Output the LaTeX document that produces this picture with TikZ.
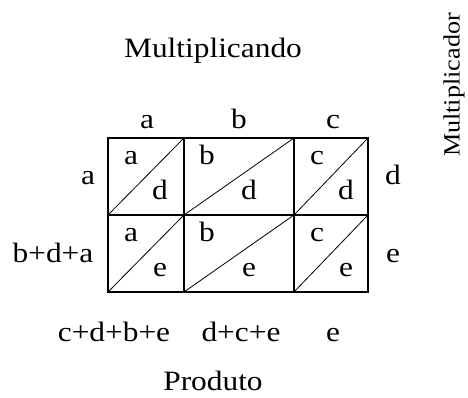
\documentclass[tikz,border=0pt]{standalone}
\usepackage{fontspec}
\setmainfont[FakeStretch=1.12]{Liberation Serif}

\begin{document}
\begin{tikzpicture}[x=0.75pt,y=-0.75pt,
    every node/.style={font=\fontsize{21}{25}\selectfont},
    lbl/.style={anchor=base}]
    \useasboundingbox (0,0) rectangle (468,398);
    \pgfmathsetmacro{\ya}{138}
    \pgfmathsetmacro{\yb}{215}
    \pgfmathsetmacro{\yc}{292}
    % titles
    \node[lbl] (mcando) at (213,58) {Multiplicando};
    \node[rotate=90,font=\fontsize{17.5}{20}\selectfont] (mcador) at (454,85) {Multiplicador};
    \node[lbl] (prod) at (213,391) {Produto};
    % cells, one column at a time
    \foreach \xl/\xr/\xh/\xp/\xq/\p [count=\i] in {108/184/147/131/160/a, 184/294/239/207/249/b, 294/368/333/317/346/c} {
        \node[lbl] (top\i) at (\xh,129) {\p};
        \foreach \yt/\ybt/\q [count=\j] in {\ya/\yb/d, \yb/\yc/e} {
            \draw[line width=1.2pt] (\xl,\yt) rectangle (\xr,\ybt);
            \draw[line width=0.6pt] (\xl,\ybt) -- (\xr,\yt);
            \node[lbl] (p\i\j) at (\xp,\yt+27) {\p};
            \node[lbl] (q\i\j) at (\xq,\yt+62) {\q};
        }
    }
    % side labels
    \node[lbl] (rowa) at (88,185) {a};
    \node[lbl,anchor=base east] (rowb) at (98,263) {b+d+a};
    \node[lbl] (rowd) at (393,185) {d};
    \node[lbl] (rowe) at (393,263) {e};
    % sums
    \node[lbl] (sa) at (114,342) {c+d+b+e};
    \node[lbl] (sb) at (241,342) {d+c+e};
    \node[lbl] (sc) at (333,342) {e};
\end{tikzpicture}
\end{document}
